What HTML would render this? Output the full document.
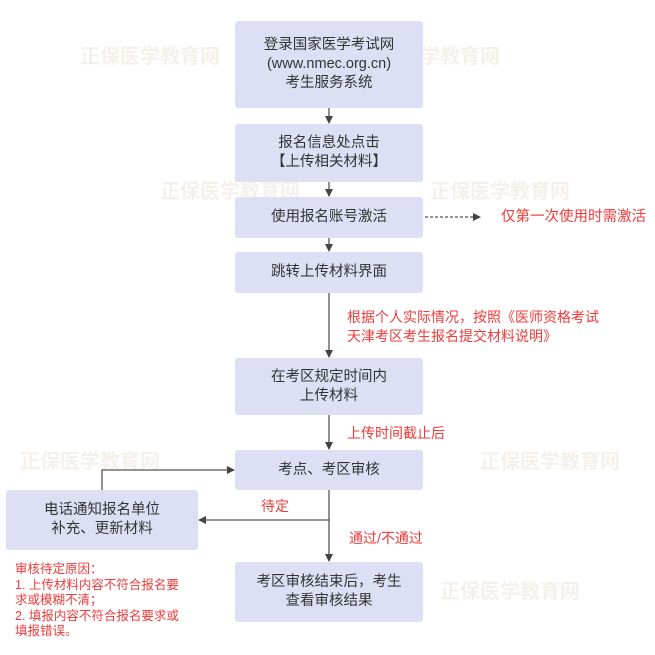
<!DOCTYPE html>
<html><head><meta charset="utf-8"><style>
body{margin:0;width:655px;height:655px;background:#fff;position:relative;overflow:hidden;font-family:"Liberation Sans","Noto Sans CJK SC",sans-serif}
.b{position:absolute;background:#dde0f4;border-radius:3px;display:flex;align-items:center;justify-content:center;text-align:center;color:#333;font-size:14.5px;line-height:19px}
.r{position:absolute;color:#ee3b3b;font-size:14px;line-height:19px;white-space:nowrap}
.wm{position:absolute;color:#f5f1ea;font-size:20px;font-weight:bold;white-space:nowrap}
</style></head><body>
<div class="wm" style="left:80px;top:40px">正保医学教育网</div>
<div class="wm" style="left:400px;top:40px">医学教育网</div>
<div class="wm" style="left:160px;top:175px">正保医学教育网</div>
<div class="wm" style="left:430px;top:175px">正保医学教育网</div>
<div class="wm" style="left:20px;top:445px">正保医学教育网</div>
<div class="wm" style="left:480px;top:445px">正保医学教育网</div>
<div class="wm" style="left:440px;top:575px">正保医学教育网</div>
<div class="b" style="left:235px;top:21px;width:188px;height:87px">登录国家医学考试网<br>(www.nmec.org.cn)<br>考生服务系统</div>
<div class="b" style="left:235px;top:124px;width:188px;height:58px">报名信息处点击<br>【上传相关材料】</div>
<div class="b" style="left:235px;top:197px;width:188px;height:41px">使用报名账号激活</div>
<div class="b" style="left:235px;top:252px;width:188px;height:41px">跳转上传材料界面</div>
<div class="b" style="left:235px;top:358px;width:188px;height:57px">在考区规定时间内<br>上传材料</div>
<div class="b" style="left:235px;top:450px;width:188px;height:40px">考点、考区审核</div>
<div class="b" style="left:6px;top:490px;width:192px;height:60px">电话通知报名单位<br>补充、更新材料</div>
<div class="b" style="left:235px;top:562px;width:188px;height:60px">考区审核结束后，考生<br>查看审核结果</div>
<svg style="position:absolute;left:0;top:0" width="655" height="655">
<defs><marker id="a" markerWidth="8" markerHeight="8" refX="7" refY="4" orient="auto" markerUnits="userSpaceOnUse"><path d="M0,0L8,4L0,8z" fill="#444"/></marker></defs>
<g stroke="#555" stroke-width="1.3" fill="none">
<line x1="329" y1="108" x2="329" y2="123" marker-end="url(#a)"/>
<line x1="329" y1="182" x2="329" y2="196" marker-end="url(#a)"/>
<line x1="329" y1="238" x2="329" y2="251" marker-end="url(#a)"/>
<line x1="329" y1="293" x2="329" y2="357" marker-end="url(#a)"/>
<line x1="329" y1="415" x2="329" y2="449" marker-end="url(#a)"/>
<line x1="329" y1="490" x2="329" y2="561" marker-end="url(#a)"/>
<line x1="329" y1="520" x2="199" y2="520" marker-end="url(#a)"/>
<polyline points="102,490 102,470 234,470" marker-end="url(#a)"/>
<line x1="425" y1="217" x2="480" y2="217" stroke-dasharray="3,2" marker-end="url(#a)"/>
</g></svg>
<div class="r" style="left:501px;top:208px;font-size:14.5px">仅第一次使用时需激活</div>
<div class="r" style="left:347px;top:308px">根据个人实际情况，按照《医师资格考试<br>天津考区考生报名提交材料说明》</div>
<div class="r" style="left:347px;top:424px">上传时间截止后</div>
<div class="r" style="left:261px;top:497px">待定</div>
<div class="r" style="left:349px;top:529px">通过/不通过</div>
<div class="r" style="left:15px;top:562px;font-size:12.5px;line-height:15.5px">审核待定原因：<br>1. 上传材料内容不符合报名要<br>求或模糊不清；<br>2. 填报内容不符合报名要求或<br>填报错误。</div>
</body></html>
